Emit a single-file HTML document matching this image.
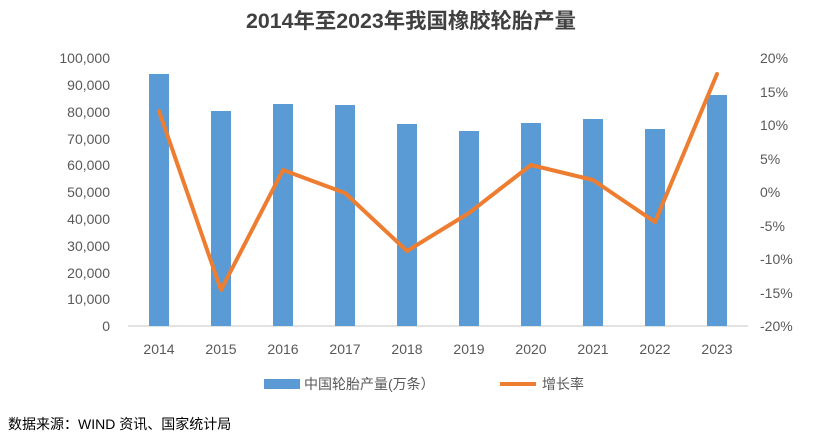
<!DOCTYPE html>
<html><head><meta charset="utf-8"><style>
body{margin:0;background:#fff;width:822px;height:443px;overflow:hidden}
svg text{font-family:"Liberation Sans","Noto Sans CJK SC",sans-serif;fill:#595959}
</style></head><body>
<svg width="822" height="443" viewBox="0 0 822 443">
<text x="411" y="28" text-anchor="middle" font-size="21" font-weight="bold" textLength="330" lengthAdjust="spacingAndGlyphs" style="fill:#404040">2014年至2023年我国橡胶轮胎产量</text>
<g font-size="14" text-anchor="end">
<text x="110" y="63">100,000</text><text x="110" y="90">90,000</text><text x="110" y="117">80,000</text><text x="110" y="144">70,000</text><text x="110" y="170">60,000</text><text x="110" y="197">50,000</text><text x="110" y="224">40,000</text><text x="110" y="251">30,000</text><text x="110" y="278">20,000</text><text x="110" y="304">10,000</text><text x="110" y="331">0</text>
</g>
<g font-size="14" text-anchor="start">
<text x="760" y="63">20%</text><text x="760" y="97">15%</text><text x="760" y="130">10%</text><text x="760" y="164">5%</text><text x="760" y="197">0%</text><text x="760" y="231">-5%</text><text x="760" y="264">-10%</text><text x="760" y="298">-15%</text><text x="760" y="331">-20%</text>
</g>
<line x1="128" y1="326" x2="748" y2="326" stroke="#d9d9d9" stroke-width="1.5"/>
<g fill="#5b9bd5">
<rect x="149" y="74" width="20" height="252"/>
<rect x="211" y="111" width="20" height="215"/>
<rect x="273" y="104" width="20" height="222"/>
<rect x="335" y="105" width="20" height="221"/>
<rect x="397" y="124" width="20" height="202"/>
<rect x="459" y="131" width="20" height="195"/>
<rect x="521" y="123" width="20" height="203"/>
<rect x="583" y="119" width="20" height="207"/>
<rect x="645" y="129" width="20" height="197"/>
<rect x="707" y="95" width="20" height="231"/>
</g>
<polyline fill="none" stroke="#ed7d31" stroke-width="4" stroke-linejoin="round" stroke-linecap="round" points="159,111 221,290 283,170 345,193 407,251 469,213 531,165 593,180 655,222 717,74"/>
<g font-size="14" text-anchor="middle">
<text x="159" y="354">2014</text><text x="221" y="354">2015</text><text x="283" y="354">2016</text><text x="345" y="354">2017</text><text x="407" y="354">2018</text><text x="469" y="354">2019</text><text x="531" y="354">2020</text><text x="593" y="354">2021</text><text x="655" y="354">2022</text><text x="717" y="354">2023</text>
</g>
<rect x="264" y="379" width="36" height="10" fill="#5b9bd5"/>
<text x="304" y="389" font-size="14">中国轮胎产量(万条）</text>
<line x1="500" y1="384" x2="536" y2="384" stroke="#ed7d31" stroke-width="4"/>
<text x="542" y="389" font-size="14">增长率</text>
<text x="8" y="429" font-size="14" style="fill:#000">数据来源：WIND 资讯、国家统计局</text>
</svg>
</body></html>
